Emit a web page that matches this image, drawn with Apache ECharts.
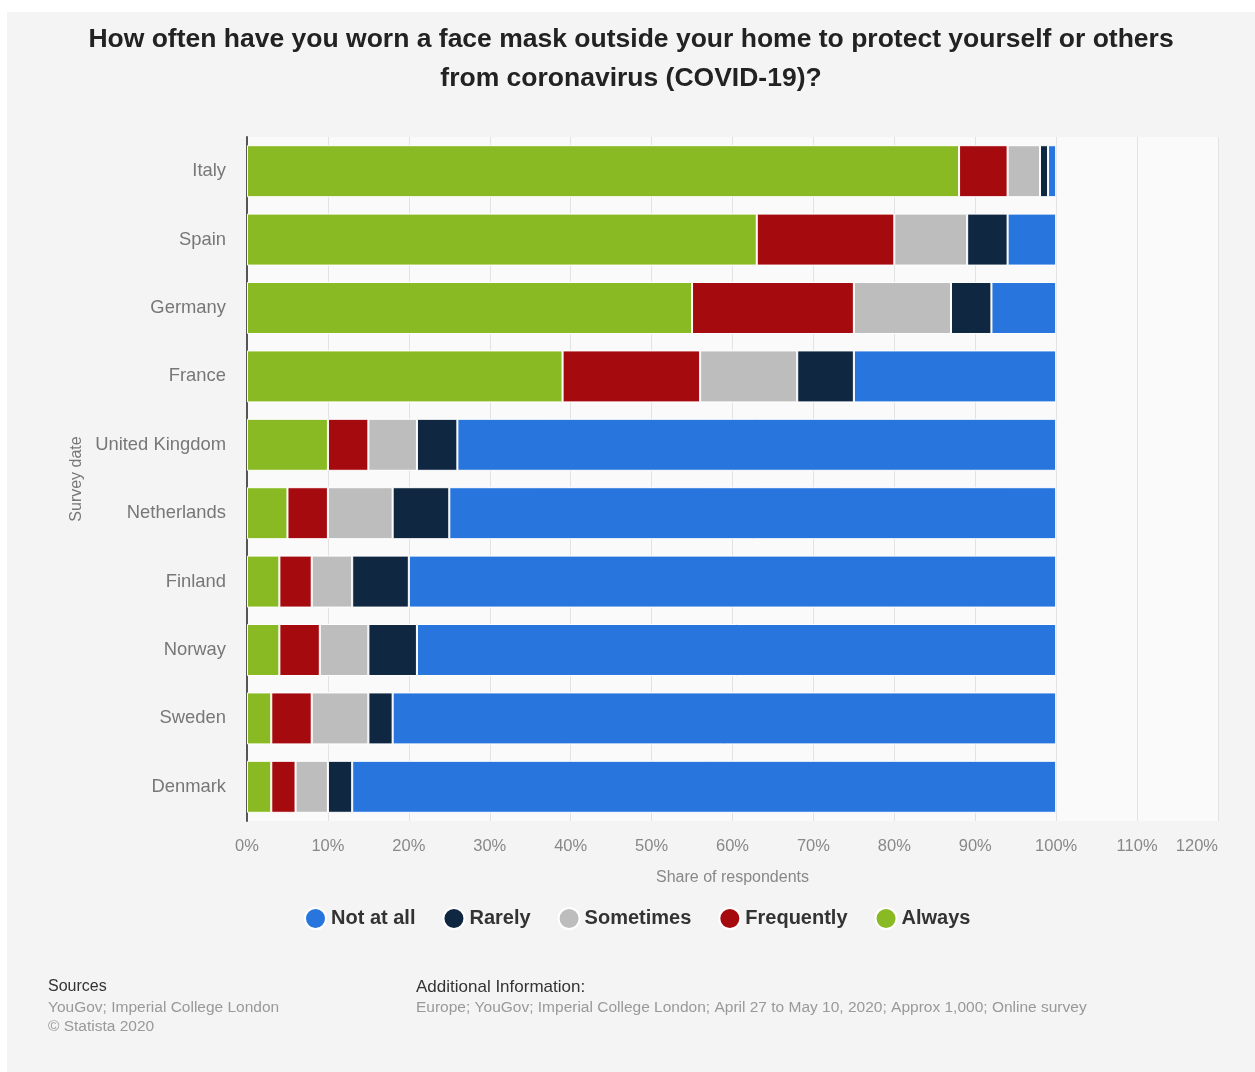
<html>
<head>
    <meta charset="utf-8">
    <title>Face mask usage</title>
    <script src="https://cdn.jsdelivr.net/npm/echarts@6/dist/echarts.min.js"></script>
    <style>
        body { margin: 0; background: #ffffff; }
        #chart { position: absolute; left: 7px; top: 12px; width: 1248px; height: 1060px; background: #f4f4f4; }
    </style>
</head>
<body>
<div id="chart"></div>
<script>
    // countries, top to bottom
    var countries = ['Italy', 'Spain', 'Germany', 'France', 'United Kingdom', 'Netherlands', 'Finland', 'Norway', 'Sweden', 'Denmark'];
    // shares in %
    var always     = [88, 63, 55, 39, 10, 5, 4, 4, 3, 3];
    var frequently = [6, 17, 20, 17, 5, 5, 4, 5, 5, 3];
    var sometimes  = [4, 9, 12, 12, 6, 8, 5, 6, 7, 4];
    var rarely     = [1, 5, 5, 7, 5, 7, 7, 6, 3, 3];
    var notAtAll   = [1, 6, 8, 25, 74, 75, 80, 79, 82, 87];
    var xTicks = [0, 10, 20, 30, 40, 50, 60, 70, 80, 90, 100, 110, 120];
    var legendOrder = ['Not at all', 'Rarely', 'Sometimes', 'Frequently', 'Always'];

    var font = 'Liberation Sans, Arial, sans-serif';

    function bar(name, data, color) {
        return {
            name: name,
            type: 'bar',
            stack: 'total',
            data: data,
            barCategoryGap: '24%',
            itemStyle: { color: color, borderColor: '#ffffff', borderWidth: 1 },
            emphasis: { disabled: true }
        };
    }

    var chart = echarts.init(document.getElementById('chart'));
    var option = {
        animation: false,
        textStyle: { fontFamily: font },
        title: {
            text: 'How often have you worn a face mask outside your home to protect yourself or others\nfrom coronavirus (COVID-19)?',
            left: 'center',
            top: 3,
            textStyle: { fontSize: 26.5, fontWeight: 'bold', color: '#222', lineHeight: 39, fontFamily: font }
        },
        legend: {
            data: legendOrder,
            left: 292,
            top: 890,
            icon: 'circle',
            itemWidth: 21,
            itemHeight: 21,
            itemGap: 27,
            textStyle: { fontSize: 20, fontWeight: 'bold', color: '#333', fontFamily: font }
        },
        grid: {
            left: 240, right: 37, top: 125, bottom: 251,
            show: true, backgroundColor: '#fafafa', borderWidth: 0
        },
        xAxis: {
            type: 'value',
            min: xTicks[0],
            max: xTicks[xTicks.length - 1],
            interval: 10,
            name: 'Share of respondents',
            nameLocation: 'middle',
            nameGap: 49,
            nameTextStyle: { fontSize: 16, color: '#888' },
            axisLine: { show: false },
            axisTick: { show: false },
            axisLabel: { formatter: '{value}%', fontSize: 16.5, color: '#888', margin: 17, alignMaxLabel: 'right' },
            splitLine: { show: true, lineStyle: { color: '#e3e3e3', width: 1 } }
        },
        yAxis: {
            type: 'category',
            data: countries,
            inverse: true,
            name: 'Survey date',
            nameLocation: 'middle',
            nameGap: 162,
            nameTextStyle: { fontSize: 16, color: '#777' },
            axisLine: { show: true, lineStyle: { color: '#555', width: 2 } },
            axisTick: { show: false },
            axisLabel: { fontSize: 18.4, color: '#777', margin: 21 }
        },
        series: [
            bar('Always', always, '#8aba23'),
            bar('Frequently', frequently, '#a50a0f'),
            bar('Sometimes', sometimes, '#bdbdbd'),
            bar('Rarely', rarely, '#0f2741'),
            bar('Not at all', notAtAll, '#2876dd')
        ],
        graphic: [
            { type: 'text', left: 41, top: 967, style: { text: 'Sources', fontSize: 16, fill: '#333', fontFamily: font } },
            { type: 'text', left: 41, top: 988, style: { text: 'YouGov; Imperial College London', fontSize: 15.5, fill: '#999', fontFamily: font } },
            { type: 'text', left: 41, top: 1007, style: { text: '\u00a9 Statista 2020', fontSize: 15.5, fill: '#999', fontFamily: font } },
            { type: 'text', left: 409, top: 967, style: { text: 'Additional Information:', fontSize: 17, fill: '#333', fontFamily: font } },
            { type: 'text', left: 409, top: 988, style: { text: 'Europe; YouGov; Imperial College London; April 27 to May 10, 2020; Approx 1,000; Online survey', fontSize: 15.5, fill: '#999', fontFamily: font } }
        ]
    };
    chart.setOption(option);
</script>
</body>
</html>
